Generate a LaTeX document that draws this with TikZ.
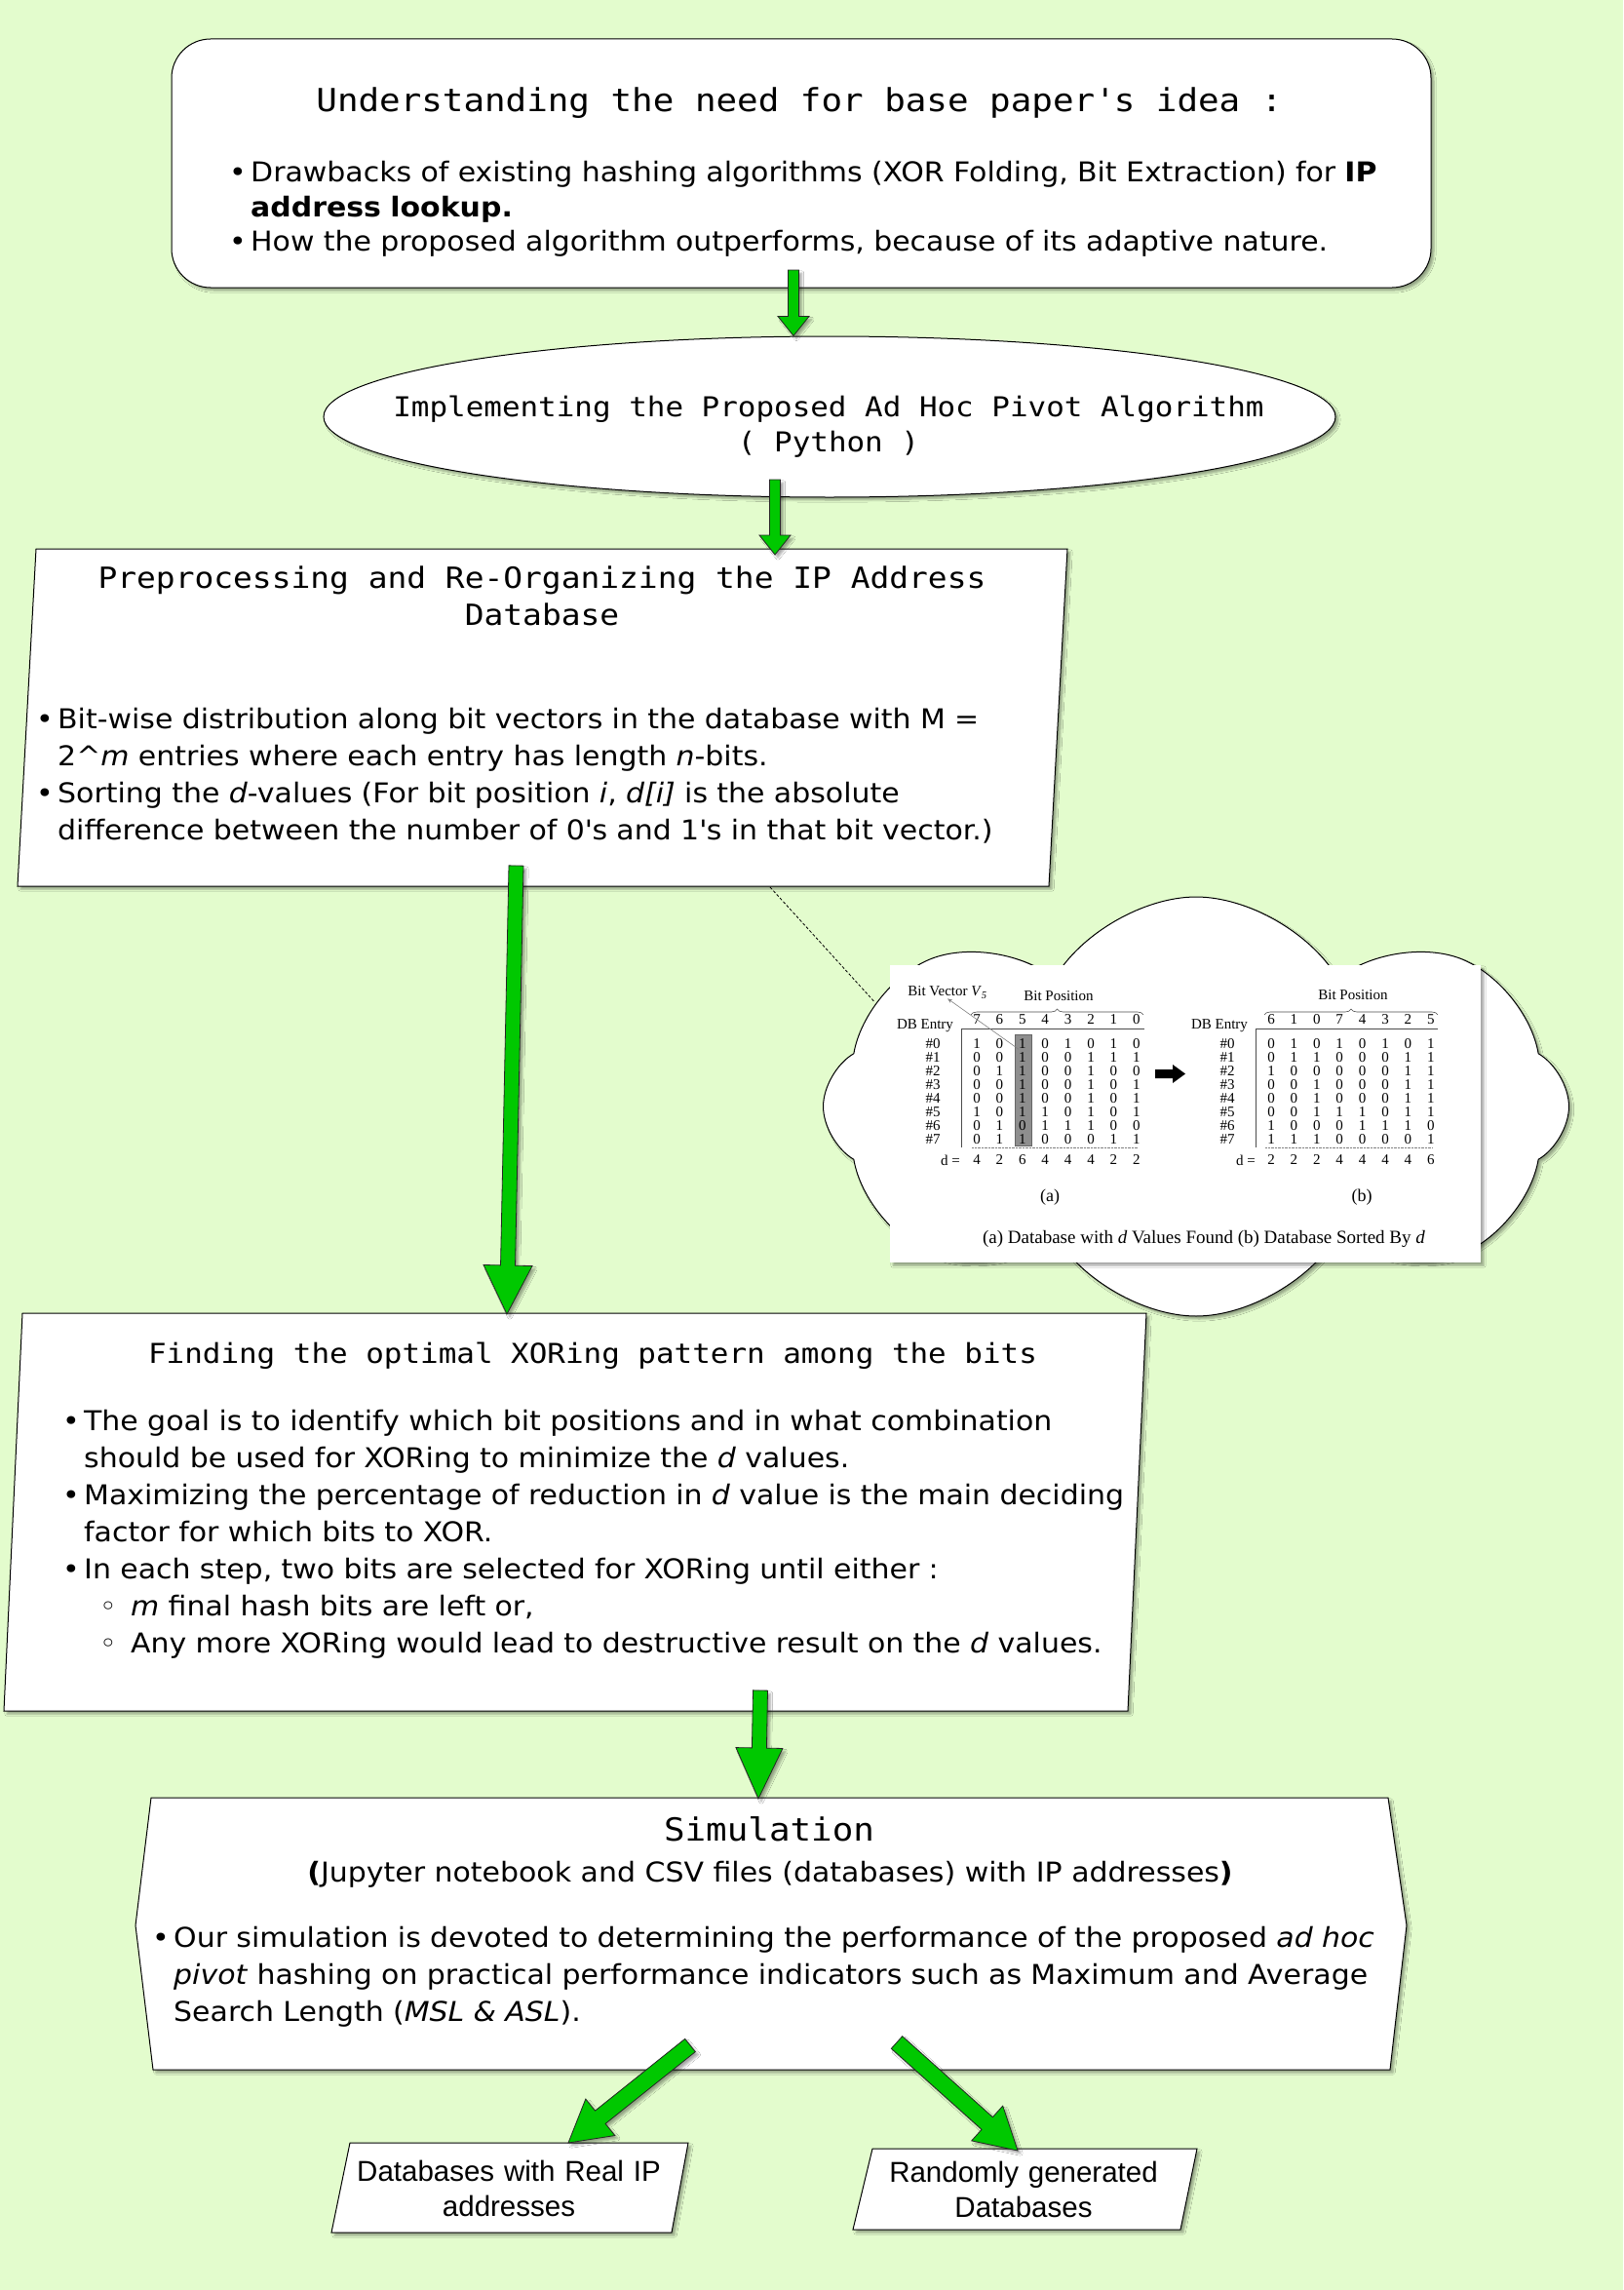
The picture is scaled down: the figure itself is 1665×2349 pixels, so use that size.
\documentclass[tikz,border=0pt]{standalone}
\usepackage{fontspec}
\setmainfont{DejaVu Sans}[FakeStretch=1.07]
\newfontfamily\monofont{DejaVu Sans Mono}[FakeStretch=1.1]
\newfontfamily\arialfont{Liberation Sans}
\newfontfamily\timesfont{Liberation Serif}
\usetikzlibrary{shapes.geometric,shapes.symbols,shadows.blur,calc,positioning,decorations.pathreplacing,arrows.meta}

\definecolor{pagegreen}{HTML}{E3FCCD}
\definecolor{arrowgreen}{HTML}{00C800}
\definecolor{bargray}{HTML}{8E8E8E}

\tikzset{
  softshadow/.style={blur shadow={shadow xshift=3pt, shadow yshift=-3pt, shadow blur steps=5, shadow opacity=35}},
  box/.style={draw=black, line width=1pt, fill=white, softshadow},
  fatarrow/.style={draw=black!85, line width=0.8pt, fill=arrowgreen, softshadow},
  heading/.style={font=\monofont\fontsize{#1}{38}\selectfont, inner sep=0pt, anchor=base},
  heading/.default=30,
  bullets/.style={font=\fontsize{28}{#1}\selectfont, inner sep=0pt, anchor=base west, text width=1400pt},
  bullets/.default=38,
  dbtext/.style={font=\timesfont\fontsize{15}{16}\selectfont, inner sep=0pt},
  calloutline/.style={black, line width=0.8pt, dash pattern=on 3pt off 2pt},
  vecarrow/.style={gray, line width=0.6pt, -{Stealth[length=5pt]}},
  dbbrace/.style={decorate, decoration={brace, amplitude=6pt}, black!70, line width=0.6pt},
}

% item macros for the bullet lists
\newcommand{\dotitem}[1]{\noindent\hangindent=22pt\hangafter=1\makebox[22pt][l]{\textbullet}#1\par}
\newcommand{\ringitem}[1]{\noindent\hangindent=70pt\hangafter=1\hspace*{38pt}\makebox[32pt][l]{◦}#1\par}

% green block arrow: from, to, half shaft, half head, head length
\newcommand{\blockarrow}[5]{%
  \coordinate (hb) at ($(#2)!#5!(#1)$);
  \draw[fatarrow] ($(#1)!#3!90:(#2)$) -- ($(hb)!#3!-90:(#1)$) -- ($(hb)!#4!-90:(#1)$)
    -- (#2) -- ($(hb)!#4!90:(#1)$) -- ($(hb)!#3!90:(#1)$) -- ($(#1)!#3!-90:(#2)$) -- cycle;
}

\begin{document}
\begin{tikzpicture}[x=1pt, y=-1pt]
\fill[pagegreen] (0,0) rectangle (1665,2349);
\useasboundingbox (0,0) rectangle (1665,2349);

% boxes
\node[box, rounded corners=40pt, minimum width=1292pt, minimum height=255pt, inner sep=0pt] (need) at (822,167.5) {};
\node[box, ellipse, minimum width=1038pt, minimum height=165pt, inner sep=0pt] (impl) at (851,427.5) {};

\coordinate (prep-nw) at (37,563);
\coordinate (prep-ne) at (1095,563);
\coordinate (prep-se) at (1076,909);
\coordinate (prep-sw) at (18,909);
\draw[box] (prep-nw) -- (prep-ne) -- (prep-se) -- (prep-sw) -- cycle;

% cloud with the sorted database figure
\coordinate (callout) at (790,910);
\node[box, cloud, cloud puffs=8, cloud puff arc=120, cloud ignores aspect, minimum width=765pt, minimum height=430pt, inner sep=0pt] (cloud) at (1227,1135) {};
\draw[calloutline] (callout) -- (cloud.162);
\fill[white, softshadow] (913,990) rectangle (1519,1295);

% table (a)
\node[dbtext] (vecLabel) at (972,1018) {Bit Vector \textit{V}\textsubscript{\textit{5}}};
\node[dbtext] (posA) at (1086,1022) {Bit Position};
\draw[dbbrace] (996,1041) -- (1173,1041);
\node[dbtext] (entryA) at (949,1052) {DB Entry};
\draw[black!70, line width=0.7pt] (1174,1055) -- (986,1055) -- (986,1177);
\draw[fill=bargray, draw=black!60] (1041,1061) rectangle (1058,1175);
\foreach \p [count=\c from 0] in {7,6,5,4,3,2,1,0}
  \node[dbtext] (ha\c) at ({1002+23.4*\c},1046) {\p};
\foreach \r in {0,...,7}
  \node[dbtext] (ra\r) at (957,{1071+13.9*\r}) {\#\r};
\foreach \bits [count=\r from 0] in {{1,0,1,0,1,0,1,0},{0,0,1,0,0,1,1,1},{0,1,1,0,0,1,0,0},{0,0,1,0,0,1,0,1},{0,0,1,0,0,1,0,1},{1,0,1,1,0,1,0,1},{0,1,0,1,1,1,0,0},{0,1,1,0,0,0,1,1}}
  \foreach \b [count=\c from 0] in \bits
    \node[dbtext] (ba\r\c) at ({1002+23.4*\c},{1071+13.9*\r}) {\b};
\draw[densely dotted, gray] (997,1177) -- (1167,1177);
\node[dbtext, anchor=east] (dA) at (985,1190) {d =};
\foreach \v [count=\c from 0] in {4,2,6,4,4,4,2,2}
  \node[dbtext] (va\c) at ({1002+23.4*\c},1190) {\v};
\draw[vecarrow] (ba02.south west) -- (vecLabel.south);
\node[dbtext, font=\timesfont\fontsize{18}{20}\selectfont] (capA) at (1077,1228) {(a)};

% sorting arrow
\fill[black] (1185,1097) -- (1203,1097) -- (1203,1092) -- (1216,1101.5) -- (1203,1111) -- (1203,1106) -- (1185,1106) -- cycle;

% table (b)
\node[dbtext] (posB) at (1388,1021) {Bit Position};
\draw[dbbrace] (1297,1041) -- (1475,1041);
\node[dbtext] (entryB) at (1251,1052) {DB Entry};
\draw[black!70, line width=0.7pt] (1475,1055) -- (1288,1055) -- (1288,1177);
\foreach \p [count=\c from 0] in {6,1,0,7,4,3,2,5}
  \node[dbtext] (hb\c) at ({1304+23.4*\c},1046) {\p};
\foreach \r in {0,...,7}
  \node[dbtext] (rb\r) at (1259,{1071+13.9*\r}) {\#\r};
\foreach \bits [count=\r from 0] in {{0,1,0,1,0,1,0,1},{0,1,1,0,0,0,1,1},{1,0,0,0,0,0,1,1},{0,0,1,0,0,0,1,1},{0,0,1,0,0,0,1,1},{0,0,1,1,1,0,1,1},{1,0,0,0,1,1,1,0},{1,1,1,0,0,0,0,1}}
  \foreach \b [count=\c from 0] in \bits
    \node[dbtext] (bb\r\c) at ({1304+23.4*\c},{1071+13.9*\r}) {\b};
\draw[densely dotted, gray] (1298,1177) -- (1469,1177);
\node[dbtext, anchor=east] (dB) at (1288,1190) {d =};
\foreach \v [count=\c from 0] in {2,2,2,4,4,4,4,6}
  \node[dbtext] (vb\c) at ({1304+23.4*\c},1190) {\v};
\node[dbtext, font=\timesfont\fontsize{18}{20}\selectfont] (capB) at (1397,1228) {(b)};
\node[dbtext, font=\timesfont\fontsize{19}{21}\selectfont] (caption) at (1235,1271) {(a) Database with \textit{d} Values Found (b) Database Sorted By \textit{d}};

% lower boxes
\coordinate (find-nw) at (23,1347);
\coordinate (find-ne) at (1176,1347);
\coordinate (find-se) at (1157,1755);
\coordinate (find-sw) at (4,1755);
\draw[box] (find-nw) -- (find-ne) -- (find-se) -- (find-sw) -- cycle;

\draw[box] (155,1844) coordinate (sim-nw) -- (1424,1844) coordinate (sim-ne) -- (1443,1975) coordinate (sim-e)
  -- (1426,2123) coordinate (sim-se) -- (157,2123) coordinate (sim-sw) -- (139,1975) coordinate (sim-w) -- cycle;

\draw[box] (359,2198) coordinate (real-nw) -- (706,2198) -- (689,2290) -- (340,2290) coordinate (real-sw) -- cycle;
\draw[box] (895,2204) coordinate (rand-nw) -- (1228,2204) -- (1211,2287) -- (875,2287) coordinate (rand-sw) -- cycle;

% arrows
\coordinate (a1s) at (814,277);
\coordinate (a1e) at (impl.north -| a1s);
\blockarrow{a1s}{a1e}{5.5pt}{16pt}{20pt}
\coordinate (a2s) at (795,492);
\coordinate (a2e) at (795,569);
\blockarrow{a2s}{a2e}{5.5pt}{16pt}{20pt}
\coordinate (a3s) at (529.5,888);
\coordinate (a3e) at (520,1348);
\blockarrow{a3s}{a3e}{7.5pt}{25pt}{50pt}
\coordinate (a4s) at (780,1734);
\coordinate (a4e) at (778,1845);
\blockarrow{a4s}{a4e}{7.5pt}{24pt}{52pt}
\coordinate (a5s) at (708,2098);
\coordinate (a5e) at (583,2198);
\blockarrow{a5s}{a5e}{8.5pt}{24pt}{42pt}
\coordinate (a6s) at (920,2095);
\coordinate (a6e) at (1044,2206);
\blockarrow{a6s}{a6e}{8.5pt}{24pt}{42pt}

% texts
\node[heading=32.6] (needTitle) at (820,115) {Understanding the need for base paper\textquotesingle s idea :};
\node[bullets=35.5] (needText) at (235,187) {%
  \dotitem{Drawbacks of existing hashing algorithms (XOR Folding, Bit Extraction) for \textbf{IP}\newline\textbf{address lookup.}}
  \dotitem{How the proposed algorithm outperforms, because of its adaptive nature.}};

\node[heading=28.1] (implTitle) at (850,427) {Implementing the Proposed Ad Hoc Pivot Algorithm};
\node[heading=28.1] (implLang) at (850,463) {( Python )};

\node[heading=29.9] (prepTitle) at (556,603) {Preprocessing and Re-Organizing the IP Address};
\node[heading=29.9] (prepTitle2) at (556,641) {Database};
\node[bullets] (prepText) at (37,747) {%
  \dotitem{Bit-wise distribution along bit vectors in the database with M =\newline 2\textasciicircum\textit{m} entries where each entry has length \textit{n}-bits.}
  \dotitem{Sorting the \textit{d}-values (For bit position \textit{i}, \textit{d[i]} is the absolute\newline difference between the number of 0\textquotesingle s and 1\textquotesingle s in that bit vector.)}};

\node[heading=28.1] (findTitle) at (608,1398) {Finding the optimal XORing pattern among the bits};
\node[bullets] (findText) at (64,1467) {%
  \dotitem{The goal is to identify which bit positions and in what combination\newline should be used for XORing to minimize the \textit{d} values.}
  \dotitem{Maximizing the percentage of reduction in \textit{d} value is the main deciding\newline factor for which bits to XOR.}
  \dotitem{In each step, two bits are selected for XORing until either :}
  \ringitem{\textit{m} final hash bits are left or,}
  \ringitem{Any more XORing would lead to destructive result on the \textit{d} values.}};

\node[heading=32.6] (simTitle) at (789,1888) {Simulation};
\node[inner sep=0pt, anchor=base, font=\fontsize{28}{38}\selectfont] (simNote) at (790,1930) {\textbf{(}Jupyter notebook and CSV files (databases) with IP addresses\textbf{)}};
\node[bullets] (simText) at (156,1997) {%
  \dotitem{Our simulation is devoted to determining the performance of the proposed \textit{ad hoc}\newline \textit{pivot} hashing on practical performance indicators such as Maximum and Average\newline Search Length (\textit{MSL \& ASL}).}};

\node[inner sep=0pt, anchor=base, text width=400pt, align=center, font=\arialfont\fontsize{29.5}{36}\selectfont] (realText) at (522,2237) {Databases with Real IP\\addresses};
\node[inner sep=0pt, anchor=base, text width=400pt, align=center, font=\arialfont\fontsize{29.5}{36}\selectfont] (randText) at (1050,2238) {Randomly generated\\Databases};
\end{tikzpicture}
\end{document}
